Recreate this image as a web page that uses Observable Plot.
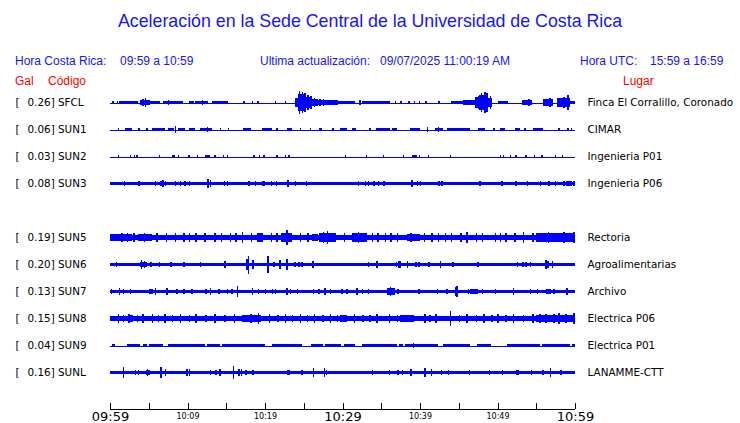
<!DOCTYPE html>
<html><head><meta charset="utf-8">
<script src="https://cdn.jsdelivr.net/npm/d3@7"></script>
<script src="https://cdn.jsdelivr.net/npm/@observablehq/plot@0.6"></script>
<style>
body{margin:0;background:#fff;width:740px;height:423px;overflow:hidden;}
#wrap{position:relative;width:740px;height:423px;}
.h{position:absolute;white-space:pre;line-height:1;font-family:"Liberation Sans",Arial,sans-serif;}
.b{color:#1414ff;font-size:12px;}
.r{color:#ff0000;font-size:12px;}
#title{left:0;width:740px;text-align:center;top:13px;font-size:17.8px;color:#1414ff;}
#traces{position:absolute;left:0;top:88.5px;}
#axis{position:absolute;left:0;top:385.5px;}
</style></head>
<body><div id="wrap">
<div class="h" id="title">Aceleración en la Sede Central de la Universidad de Costa Rica</div>
<div class="h b" style="left:15px;top:55px">Hora Costa Rica:</div>
<div class="h b" style="left:120px;top:55px">09:59 a 10:59</div>
<div class="h b" style="left:260px;top:55px">Ultima actualización:</div>
<div class="h b" style="left:380px;top:55px">09/07/2025 11:00:19 AM</div>
<div class="h b" style="left:580px;top:55px">Hora UTC:</div>
<div class="h b" style="left:650px;top:55px">15:59 a 16:59</div>
<div class="h r" style="left:15px;top:75px">Gal</div>
<div class="h r" style="left:48px;top:75px">Código</div>
<div class="h r" style="left:623px;top:75px">Lugar</div>
<div id="traces"></div>
<div id="axis"></div>
</div>
<script>
// ---- data (minutes after 09:59, acceleration in gal) ----
const rowOrder = ["SFCL","SUN1","SUN2","SUN3","SUN4","SUN5","SUN6","SUN7","SUN8","SUN9","SUNL"];
const codes = ["SFCL","SUN1","SUN2","SUN3","SUN5","SUN6","SUN7","SUN8","SUN9","SUNL"];
const gals = [0.26,0.06,0.03,0.08,0.19,0.20,0.13,0.15,0.04,0.16];
const places = ["Finca El Corralillo, Coronado","CIMAR","Ingenieria P01","Ingenieria P06","Rectoria","Agroalimentarias","Archivo","Electrica P06","Electrica P01","LANAMME-CTT"];

// body segments: [start min, end min, half amplitude gal]
const SFCL_body = [[1.2,3.6,0.03],[3.9,5.2,0.065],[5.2,6.5,0.03],[6.8,9.4,0.028],[10.2,10.8,0.028],[11.0,12.6,0.03],[13.2,15.2,0.03],[23.9,24.3,0.1],[24.3,25.2,0.19],[25.2,26.0,0.13],[26.0,26.8,0.08],[26.8,29.4,0.045],[29.4,31.6,0.03],[32.5,36.1,0.03],[44.0,45.5,0.035],[45.5,47.1,0.06],[47.1,47.6,0.12],[47.6,48.8,0.17],[48.8,49.3,0.1],[50.0,51.3,0.04],[53.2,54.5,0.06],[55.9,57.2,0.07],[57.7,59.4,0.09],[59.4,60,0.035]];
const SFCL_spikes = [[0.3,0.03],[0.9,0.03],[4.5,0.1],[4.2,0.08],[7.5,0.05],[11.9,0.055],[17.2,0.03],[18.3,0.03],[19.0,0.03],[21.3,0.03],[22.6,0.03],[24.4,0.25],[24.8,0.24],[25.1,0.22],[25.5,0.17],[25.9,0.14],[26.3,0.11],[27.0,0.07],[27.5,0.07],[28.5,0.05],[32.2,0.055],[36.8,0.03],[37.5,0.03],[38.5,0.03],[39.2,0.03],[39.9,0.03],[40.7,0.03],[42.4,0.03],[46.5,0.06],[47.5,0.15],[47.9,0.21],[48.3,0.24],[48.6,0.21],[49.0,0.14],[54.0,0.08],[56.2,0.08],[56.7,0.09],[58.5,0.12],[59.0,0.16]];

const SUN1_body = [[1.9,2.8,0.025],[4.6,4.9,0.025],[5.4,7.1,0.03],[7.5,8.2,0.025],[8.8,9.7,0.03],[10.2,11,0.025],[11.6,13.2,0.03],[17.2,18.2,0.025],[19.6,20.9,0.03],[22.8,23.5,0.025],[27,27.4,0.025],[29.7,30.6,0.025],[31.2,31.8,0.025],[34.6,36.1,0.03],[36.4,37,0.025],[38.7,40,0.03],[41.9,43,0.03],[43.5,46.5,0.03],[47.5,48.4,0.03],[50.3,51,0.025],[52.3,52.9,0.025],[54.6,55.9,0.03]];
const SUN1_spikes = [[1.0,0.03],[3.7,0.03],[8.4,0.07],[12.5,0.055],[14.2,0.03],[15.2,0.03],[21.5,0.03],[24.5,0.025],[25.8,0.025],[28.7,0.025],[33.5,0.025],[34.4,0.03],[40.9,0.055],[42.3,0.05],[49.5,0.03],[53.5,0.03],[57.9,0.03],[59,0.03],[59.5,0.03]];

const SUN2_body = [[8.0,8.4,0.03],[12.3,12.9,0.03],[39.0,39.6,0.03]];
const SUN2_spikes = [[1.0,0.025],[2.6,0.025],[3.1,0.03],[3.4,0.03],[6.3,0.025],[8.8,0.03],[10.1,0.025],[11.2,0.025],[13.5,0.03],[14.6,0.03],[15.1,0.025],[18.5,0.03],[19.2,0.025],[19.8,0.03],[21.5,0.03],[22.6,0.025],[23.0,0.025],[30.3,0.025],[33.0,0.03],[35.2,0.025],[37.8,0.025],[39.9,0.03],[41.0,0.025],[43.9,0.025],[50.3,0.025],[50.7,0.03],[51.6,0.025],[52.3,0.03],[53.6,0.025],[54.7,0.03],[55.7,0.025],[57.4,0.025],[58.3,0.025]];

const SUN3_body = [[0,60,0.044],[58.8,59.6,0.06]];
const SUN3_spikes = [[1.8,0.06],[3.7,0.065],[5.8,0.06],[6.5,0.065],[6.8,0.07],[7.1,0.065],[8.4,0.06],[9.0,0.06],[9.6,0.06],[10.2,0.06],[12.6,0.09],[12.9,0.07],[14.7,0.065],[15.1,0.06],[17.9,0.06],[18.7,0.06],[19.6,0.06],[19.8,0.065],[20.8,0.06],[21.4,0.065],[22.9,0.075],[23.9,0.06],[25.3,0.06],[32.0,0.06],[32.9,0.06],[33.3,0.06],[34.0,0.06],[34.6,0.06],[35.3,0.065],[38.9,0.08],[39.6,0.065],[40.0,0.06],[42.4,0.065],[42.8,0.06],[47.7,0.06],[50.5,0.06],[52.3,0.065],[53.8,0.06],[55.5,0.06],[56.6,0.06],[57.4,0.06],[58.5,0.065],[59.4,0.065],[59.8,0.065]];

const SUN5_body = [[0,60,0.066],[0,2.8,0.08],[3.6,5.4,0.085],[19,19.8,0.095],[22,23.5,0.095],[26,26.8,0.08],[27,29,0.1],[31.2,33.1,0.095],[38.3,40,0.085],[55,60,0.09]];
const SUN5_spikes = [[1.5,0.1],[2.2,0.09],[3.0,0.09],[4.4,0.1],[6,0.1],[7.2,0.09],[8.4,0.11],[9.5,0.09],[10.2,0.09],[11,0.1],[12.2,0.09],[13.5,0.1],[14.3,0.09],[15.5,0.09],[16.2,0.09],[17,0.12],[18.2,0.09],[19.4,0.11],[20.8,0.1],[21.5,0.09],[22.8,0.16],[23.2,0.11],[24.5,0.1],[25.5,0.09],[27.5,0.12],[28,0.14],[29.0,0.1],[30.2,0.1],[31.5,0.1],[32,0.12],[33.8,0.09],[34.5,0.09],[35.5,0.1],[36.2,0.09],[37,0.1],[38.8,0.1],[40.5,0.09],[41.5,0.09],[42.3,0.11],[43.2,0.09],[44,0.1],[45.2,0.09],[46,0.12],[47.2,0.09],[48,0.1],[49.7,0.11],[50.3,0.09],[51,0.1],[52.2,0.09],[53.3,0.13],[54.5,0.09],[55.5,0.1],[56.5,0.12],[57.3,0.11],[58.5,0.13],[59.8,0.12]];

const SUN6_body = [[0,60,0.042],[3.9,4.8,0.065],[34.3,34.6,0.065],[56.1,56.5,0.08]];
const SUN6_spikes = [[0.8,0.055],[4.0,0.09],[4.4,0.07],[5.2,0.055],[6.3,0.05],[7.8,0.055],[9.5,0.05],[11.6,0.055],[14.8,0.075],[17.6,0.13],[17.8,0.2],[18.4,0.09],[20.3,0.18],[21.1,0.055],[21.9,0.09],[22.8,0.12],[23.8,0.065],[24.3,0.065],[24.7,0.065],[26.1,0.07],[33.3,0.055],[34.4,0.07],[36.9,0.05],[37.2,0.07],[37.4,0.07],[38.3,0.07],[39.4,0.055],[39.8,0.055],[41.1,0.05],[42.6,0.07],[44.2,0.05],[47.4,0.05],[52.5,0.05],[53.2,0.055],[53.6,0.055],[54.2,0.06],[56.2,0.09],[56.5,0.08],[57.0,0.08]];

const SUN7_body = [[0,60,0.042],[5.0,5.5,0.065],[35.7,36.8,0.075],[44.5,44.9,0.1],[46.5,47.4,0.06],[56.2,56.9,0.06]];
const SUN7_spikes = [[0.13,0.055],[1.16,0.085],[1.7,0.055],[2.6,0.055],[5.8,0.07],[7.3,0.075],[8.6,0.06],[9.5,0.065],[10.5,0.055],[12.3,0.065],[12.9,0.085],[14.0,0.065],[15.1,0.055],[15.7,0.055],[16.4,0.13],[18.3,0.075],[19.1,0.055],[20.0,0.055],[20.9,0.065],[21.3,0.06],[22.8,0.075],[23.2,0.055],[24.1,0.055],[26.2,0.055],[26.9,0.055],[27.7,0.085],[28.4,0.055],[29.9,0.055],[30.5,0.055],[31.8,0.07],[32.5,0.055],[33.3,0.055],[36.1,0.1],[37.1,0.055],[39.8,0.055],[42.2,0.055],[43.4,0.055],[44.7,0.13],[46.2,0.065],[47.3,0.055],[48.0,0.055],[49.7,0.055],[52.0,0.085],[54.2,0.055],[55.1,0.055],[56.3,0.065],[57.2,0.055],[58.9,0.08]];

const SUN8_body = [[0,60,0.064],[2.4,3.0,0.085],[17,19.5,0.08],[29.7,30.6,0.08],[37.4,39.2,0.08],[55,60,0.08]];
const SUN8_spikes = [[1.0,0.09],[1.7,0.085],[2.4,0.11],[3.5,0.085],[4.2,0.09],[5.4,0.1],[6.2,0.085],[7.0,0.09],[8.0,0.085],[9.0,0.09],[10.2,0.085],[11.0,0.09],[12.3,0.085],[13.5,0.09],[14.8,0.085],[16.0,0.09],[18.1,0.1],[19.1,0.12],[20.5,0.09],[21.6,0.085],[22.6,0.11],[23.5,0.085],[24.5,0.09],[25.4,0.085],[26.3,0.09],[27.4,0.085],[28.4,0.11],[29.3,0.085],[31.5,0.09],[32.6,0.085],[33.5,0.085],[34.4,0.11],[36.0,0.09],[37.0,0.085],[40.6,0.1],[41.2,0.085],[42.0,0.09],[43.9,0.16],[45.0,0.085],[46.0,0.09],[47.2,0.085],[48.2,0.1],[49.2,0.085],[50.0,0.09],[51.0,0.085],[52.0,0.09],[53.3,0.085],[54.5,0.09],[55.4,0.09],[56.2,0.1],[57.2,0.09],[57.9,0.12],[58.8,0.1],[59.8,0.13]];

const SUN9_body = [[0.3,0.7,0.027],[2.2,3.9,0.027],[4.3,4.8,0.027],[5.0,6.8,0.027],[7.5,12.3,0.027],[12.5,14.2,0.027],[14.5,20,0.027],[20.9,24.8,0.027],[25.9,27.5,0.027],[27.7,29.8,0.027],[30.2,31.6,0.027],[32.5,37,0.027],[37.3,37.8,0.027],[38,42.3,0.027],[43,46.4,0.027],[47.4,49.2,0.027],[51.2,55.5,0.027],[55.7,59.4,0.027],[59.6,60,0.027]];
const SUN9_spikes = [[12.5,0.04],[23.0,0.035],[39.1,0.045],[45.5,0.035]];

const SUNL_body = [[0,60,0.042],[4.6,5.1,0.065],[22.8,23.2,0.06],[38.7,39.0,0.08],[52.4,52.8,0.06]];
const SUNL_spikes = [[1.7,0.12],[3.2,0.065],[3.6,0.065],[4.8,0.075],[6.5,0.12],[7.1,0.075],[9.9,0.085],[10.2,0.085],[12.9,0.065],[13.6,0.065],[14.1,0.085],[15.9,0.15],[16.6,0.085],[16.9,0.085],[17.5,0.065],[18.4,0.065],[22.9,0.065],[24.7,0.065],[26.2,0.11],[27.6,0.11],[27.9,0.065],[33.8,0.06],[36.0,0.06],[37.1,0.065],[37.7,0.065],[38.8,0.085],[40.6,0.11],[41.4,0.075],[42.7,0.06],[43.6,0.06],[46.3,0.065],[48.9,0.06],[50.6,0.06],[52.6,0.065],[54.3,0.06],[55.8,0.06],[56.8,0.11],[58.1,0.06]];

const bodies = [SFCL_body,SUN1_body,SUN2_body,SUN3_body,SUN5_body,SUN6_body,SUN7_body,SUN8_body,SUN9_body,SUNL_body];
const spikesets = [SFCL_spikes,SUN1_spikes,SUN2_spikes,SUN3_spikes,SUN5_spikes,SUN6_spikes,SUN7_spikes,SUN8_spikes,SUN9_spikes,SUNL_spikes];

// time axis
const tickMinutes = [0,5,10,15,20,25,30,35,40,45,50,55,60];
const labelMinutes = [0,10,20,30,40,50,60];
const timeLabels = ["09:59","10:09","10:19","10:29","10:39","10:49","10:59"];
const bigLabel = [true,false,false,true,false,false,true];

// ---- build tables ----
const BLUE = "#0000ff";
const stations = codes.map((c,i)=>({code:c, gal:gals[i], place:places[i]}));
const bodyRows = bodies.flatMap((arr,i)=>arr.map(([t0,t1,a])=>({code:codes[i],t0,t1,a})));
const spikeRows = spikesets.flatMap((arr,i)=>arr.map(([t,a])=>({code:codes[i],t,a})));

const traces = Plot.plot({
  width:740, height:297,
  marginLeft:110, marginRight:165, marginTop:0, marginBottom:0,
  style:{fontFamily:"'DejaVu Sans', sans-serif", fontSize:"10.4px", background:"transparent", overflow:"visible"},
  x:{domain:[0,60], axis:null},
  y:{domain:[-0.3,0.3], axis:null},
  fy:{domain:rowOrder, axis:null, padding:0},
  marks:[
    Plot.ruleY(stations, {fy:"code", y:()=>0, stroke:BLUE, strokeWidth:1, shapeRendering:"crispEdges"}),
    Plot.rect(bodyRows, {fy:"code", x1:"t0", x2:"t1", y1:d=>-d.a, y2:d=>d.a, fill:BLUE, shapeRendering:"crispEdges"}),
    Plot.ruleX(spikeRows, {fy:"code", x:"t", y1:d=>-d.a, y2:d=>d.a, stroke:BLUE, strokeWidth:1.5, shapeRendering:"crispEdges"}),
    Plot.text(stations, {fy:"code", text:()=>"[", frameAnchor:"left", dx:-95, textAnchor:"start", fill:"black"}),
    Plot.text(stations, {fy:"code", text:d=>`${d.gal.toFixed(2)}] ${d.code}`, frameAnchor:"left", dx:-83, textAnchor:"start", fill:"black"}),
    Plot.text(stations, {fy:"code", text:"place", frameAnchor:"right", dx:12, textAnchor:"start", fill:"black"})
  ]
});
document.getElementById("traces").appendChild(traces);

const labelRows = timeLabels.map((l,i)=>({t:labelMinutes[i], label:l, big:bigLabel[i]}));
const axis = Plot.plot({
  width:740, height:38,
  marginLeft:110, marginRight:165, marginTop:17, marginBottom:15,
  style:{fontFamily:"'DejaVu Sans', sans-serif", background:"transparent", overflow:"visible"},
  x:{domain:[0,60], axis:null},
  y:{domain:[0,1], axis:null},
  marks:[
    Plot.ruleY([0], {stroke:"black", strokeWidth:1, shapeRendering:"crispEdges"}),
    Plot.ruleX(tickMinutes, {x:d=>d, y1:()=>0, y2:()=>1, stroke:"black", strokeWidth:1, shapeRendering:"crispEdges"}),
    Plot.text(labelRows.filter(d=>d.big), {x:"t", text:"label", frameAnchor:"bottom", lineAnchor:"top", dy:2, fontSize:13, fill:"black", style:"letter-spacing:0.5px"}),
    Plot.text(labelRows.filter(d=>!d.big), {x:"t", text:"label", frameAnchor:"bottom", lineAnchor:"top", dy:3.5, fontSize:8, fill:"black"})
  ]
});
document.getElementById("axis").appendChild(axis);
</script>
</body></html>
